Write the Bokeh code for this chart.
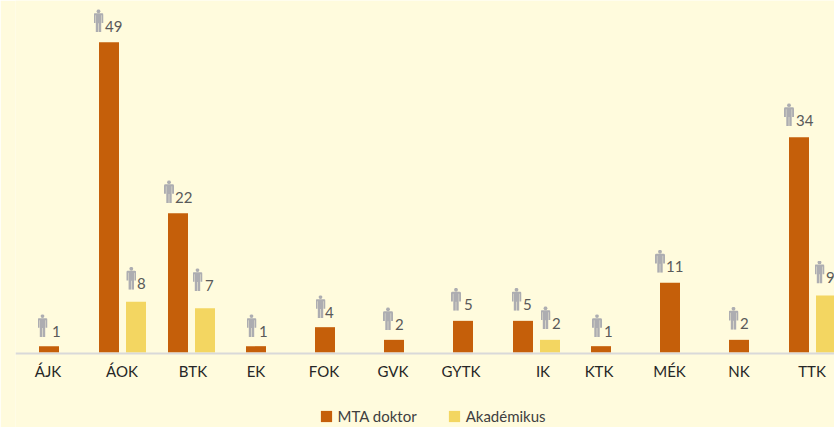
import base64
from bokeh.plotting import figure
from bokeh.models import Range1d, FixedTicker, Legend, LegendItem
from bokeh.core.properties import value
from bokeh.embed import file_html
from bokeh.resources import INLINE

# ---- data ----
faculties = ["ÁJK", "ÁOK", "BTK", "EK", "FOK", "GVK", "GYTK", "IK", "KTK", "MÉK", "NK", "TTK"]
mta_doktor = [1, 49, 22, 1, 4, 2, 5, 5, 1, 11, 2, 34]
akademikus = [0, 8, 7, 0, 0, 0, 0, 2, 0, 0, 0, 9]

# ---- layout (pixels) ----
W, H = 834, 427
FRAME_L, AXIS_Y, ZERO_Y = 15, 353, 352
CAT_PX = 69.0
CAT0_PX = 53.0
PX_PER_UNIT = 6.33
BAR_PX = 20
SOLO_OFF, PAIR_OFF = -4.5, 13.5
label_center_px = [47, 121, 192, 255, 323, 392, 460, 542, 598, 668.5, 738, 811]
# per mark: icon centre relative to bar centre, icon height above bar top, text left relative to bar centre
doktor_icon_dx = [-6.5, -10.5, -9, -4.5, -4.5, -6, -7, -6.5, -4, -10, -5.5, -10]
doktor_icon_dy = [20.5, 21.5, 21.5, 20.5, 20.5, 21, 21.5, 21.5, 20.5, 21.5, 21.5, 22.5]
doktor_text_dx = [3, -4, -3, 3, 0, 1, 1, 0, 3, -4, 1, -3]
akad_icon_dx = {1: -4.7, 2: -7.5, 7: -4.5, 11: -6.5}
akad_icon_dy = {1: 23.5, 2: 28.5, 7: 22, 11: 23.5}
akad_text_dx = {1: 1, 2: 0, 7: 2, 11: 0}
TEXT_BELOW_ICON_CENTRE = 5.5

BG = "#FFFBDD"
ORANGE = "#C55F0A"
YELLOW = "#F3D661"
ICON = "#ADADB1"
FONT = "Lato"

svg = (f'<svg xmlns="http://www.w3.org/2000/svg" width="40" height="92" viewBox="0 0 10 23">'
       f'<g fill="{ICON}"><circle cx="5" cy="1.9" r="1.9"/>'
       f'<path d="M1.4 4 H8.6 Q10 4 10 5.4 V13.6 H8.1 V6 H7.7 V23 H5.25 V13.8 H4.75 V23 H2.3 V6 H1.9 V13.6 H0 V5.4 Q0 4 1.4 4 Z"/>'
       f'</g></svg>')
icon_url = "data:image/svg+xml;base64," + base64.b64encode(svg.encode()).decode()

n = len(faculties)
px = lambda d: d / CAT_PX
yu = lambda d: d / PX_PER_UNIT

d_x = [i + px(-PAIR_OFF if akademikus[i] else SOLO_OFF) for i in range(n)]
a_idx = [i for i in range(n) if akademikus[i]]
a_x = [i + px(PAIR_OFF) for i in a_idx]
a_v = [akademikus[i] for i in a_idx]

p = figure(width=W, height=H, output_backend="svg", toolbar_location=None,
           x_range=Range1d((FRAME_L - CAT0_PX) / CAT_PX, (W - CAT0_PX) / CAT_PX),
           y_range=Range1d(-yu(H - ZERO_Y), yu(ZERO_Y)),
           min_border_left=FRAME_L, min_border_right=0, min_border_top=0,
           min_border_bottom=0,
           background_fill_color=BG, border_fill_color=BG, outline_line_color=None,
           styles={"position": "absolute", "left": "0px", "top": "0px"})
p.grid.visible = False
p.yaxis.visible = False

bw = BAR_PX / CAT_PX
r1 = p.vbar(x=d_x, top=mta_doktor, width=bw, bottom=0, fill_color=ORANGE, line_color=None)
r2 = p.vbar(x=a_x, top=a_v, width=bw, bottom=0, fill_color=YELLOW, line_color=None)

# icons and value labels
icon_x = [x + px(dx) for x, dx in zip(d_x, doktor_icon_dx)] + \
         [i + px(PAIR_OFF + akad_icon_dx[i]) for i in a_idx]
icon_y = [v + yu(dy) for v, dy in zip(mta_doktor, doktor_icon_dy)] + \
         [akademikus[i] + yu(akad_icon_dy[i]) for i in a_idx]
p.image_url(url=value(icon_url), x=icon_x, y=icon_y, w=10, h=23,
            w_units="screen", h_units="screen", anchor="center")

txt_x = [x + px(dx) for x, dx in zip(d_x, doktor_text_dx)] + \
        [i + px(PAIR_OFF + akad_text_dx[i]) for i in a_idx]
txt_y = [y - yu(TEXT_BELOW_ICON_CENTRE) for y in icon_y]
txt = [str(v) for v in mta_doktor] + [str(v) for v in a_v]
p.text(x=txt_x, y=txt_y, text=txt, text_font=value(FONT), text_font_size="15px",
       text_color="#595959", text_align="left", text_baseline="alphabetic")

# category axis, pinned inside the frame on the zero line
ticks = [round((c - CAT0_PX + 0.5) / CAT_PX, 5) for c in label_center_px]
ax = p.xaxis[0]
ax.fixed_location = -yu(AXIS_Y - ZERO_Y)
ax.ticker = FixedTicker(ticks=ticks)
ax.major_label_overrides = dict(zip(ticks, faculties))
ax.major_tick_line_color = None
ax.minor_tick_line_color = None
ax.axis_line_color = "#D9D9D9"
ax.axis_line_width = 2
ax.major_label_text_font = FONT
ax.major_label_text_font_size = "15px"
ax.major_label_text_color = "#262626"
ax.major_label_standoff = 2

legend = Legend(items=[LegendItem(label="MTA doktor", renderers=[r1]),
                       LegendItem(label="Akadémikus", renderers=[r2])],
                orientation="horizontal",
                location=(318.6 - FRAME_L, 2),
                padding=0, margin=0, spacing=30, glyph_width=14, glyph_height=14,
                label_standoff=5, label_text_font=FONT, label_text_font_size="15px",
                label_text_color="#404040", background_fill_alpha=0, border_line_color=None)
p.add_layout(legend, "center")

open("out.html", "w").write(file_html(p, INLINE))
